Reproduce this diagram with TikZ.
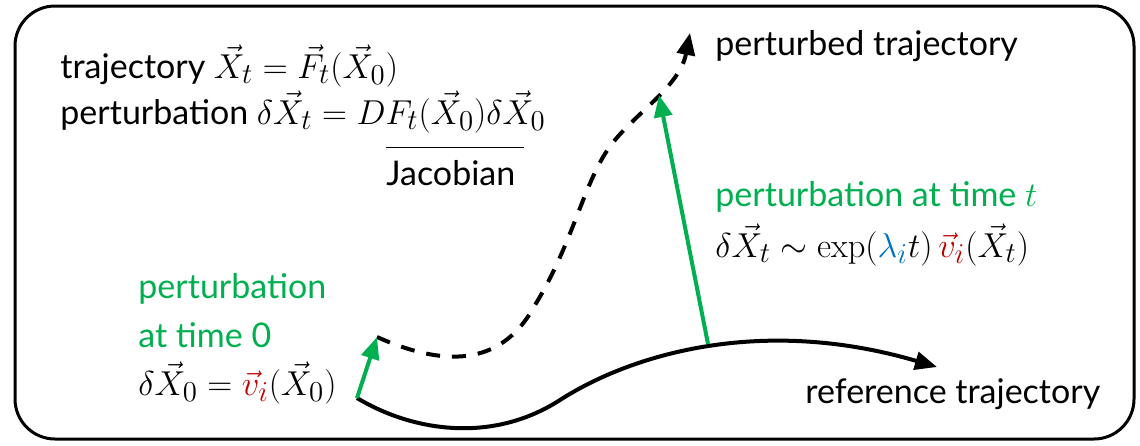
\documentclass[tikz,border=0pt]{standalone}
\usepackage{amsmath,amssymb}
\usepackage[no-math]{fontspec}
\setmainfont{Lato}
\usetikzlibrary{arrows.meta,positioning}
\definecolor{ink}{HTML}{000000}
\definecolor{pgreen}{HTML}{00B050}
\definecolor{vred}{HTML}{C00000}
\definecolor{lblue}{HTML}{0070C0}
\newcommand{\eqtxt}[1]{{\fontsize{19}{22}\selectfont$#1$}}

\begin{document}
\begin{tikzpicture}[x=0.5pt,y=-0.5pt,
    lbl/.style={anchor=base west,inner sep=0pt,text=ink,font=\fontsize{17}{22}\selectfont},
    glbl/.style={lbl,text=pgreen,align=left},
    traj/.style={line width=2pt,draw=ink,-{Triangle[length=11pt,width=9pt]}},
    dtraj/.style={traj,dash pattern=on 7pt off 6pt},
    parr/.style={line width=2pt,draw=pgreen,-{Triangle[length=11pt,width=9pt]}}]
    \useasboundingbox (0,0) rectangle (1140,445);
    \draw[line width=1.5pt,rounded corners=20pt] (15,6) rectangle (1134,439);
    % equations
    \node[lbl] (traj) at (60,78) {trajectory \eqtxt{\vec X_t=\vec F_t(\vec X_0)}};
    \node[lbl] (pert) at (60,124) {perturbation \eqtxt{\delta\vec X_t = DF_t(\vec X_0)\delta\vec X_0}};
    \node[lbl] (jac) at (386,185) {Jacobian};
    \draw[line width=0.8pt] ([yshift=6pt]jac.north west) -- ([xshift=4pt,yshift=6pt]jac.north east);
    % trajectories
    \coordinate (r0) at (357,398);
    \coordinate (r1) at (560,400);
    \coordinate (r2) at (937,367);
    \coordinate (q) at (708,344);
    \coordinate (g0) at (377,337);
    \coordinate (g1) at (659,95);
    \coordinate (g2) at (690,33);
    \draw[traj] (r0) .. controls (410,430) and (490,445) .. (r1)
        .. controls (630,355) and (760,315) .. (r2);
    \draw[dtraj] (g0) .. controls (440,365) and (500,370) .. (535,305)
        .. controls (575,240) and (585,175) .. (615,140)
        .. controls (640,110) and (680,85) .. (g2);
    \draw[parr] (r0) -- (g0);
    \draw[parr] (q) -- (g1);
    % labels
    \node[lbl] (ptraj) at (715,55) {perturbed trajectory};
    \node[glbl] (pt) at (715,206) {perturbation at time \eqtxt{t}};
    \node[lbl] (ptmath) at (715,257) {\eqtxt{\delta\vec X_t \sim \exp(\textcolor{lblue}{\lambda_i} t)\,\textcolor{vred}{\vec v_i}(\vec X_t)}};
    \node[glbl] (p0a) at (138,298) {perturbation};
    \node[glbl] (p0b) at (138,347) {at time 0};
    \node[lbl] (p0math) at (138,395) {\eqtxt{\delta\vec X_0 = \textcolor{vred}{\vec v_i}(\vec X_0)}};
    \node[lbl] (rtraj) at (805,403) {reference trajectory};
\end{tikzpicture}
\end{document}
